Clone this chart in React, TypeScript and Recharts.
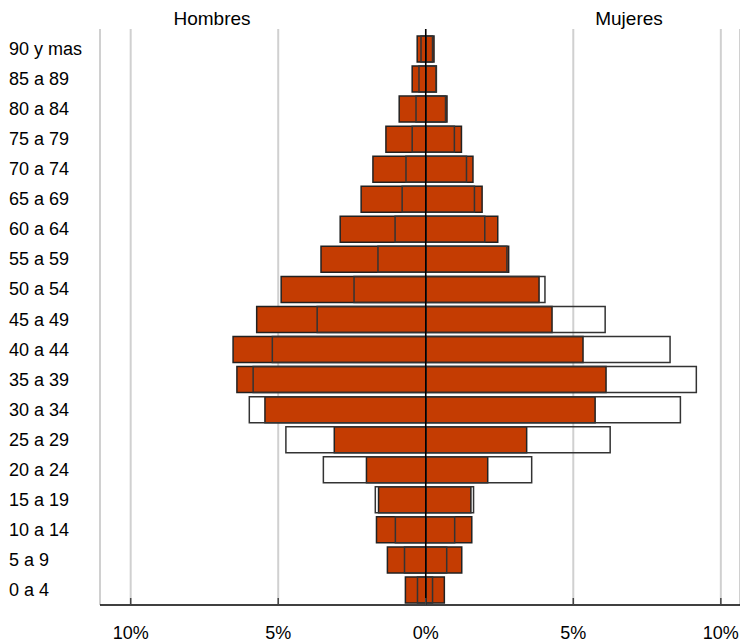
import React from "react";
import {
  BarChart,
  Bar,
  XAxis,
  YAxis,
  CartesianGrid,
  ReferenceLine,
} from "recharts";

const groups = [
  "90 y mas", "85 a 89", "80 a 84", "75 a 79", "70 a 74", "65 a 69", "60 a 64",
  "55 a 59", "50 a 54", "45 a 49", "40 a 44", "35 a 39", "30 a 34", "25 a 29",
  "20 a 24", "15 a 19", "10 a 14", "5 a 9", "0 a 4",
];

// porcentajes
const hombres = [0.29, 0.46, 0.9, 1.35, 1.79, 2.19, 2.9, 3.55, 4.9, 5.73, 6.53, 6.4, 5.45, 3.1, 2.01, 1.6, 1.67, 1.3, 0.69];
const mujeres = [0.28, 0.36, 0.72, 1.21, 1.6, 1.91, 2.44, 2.81, 3.84, 4.28, 5.33, 6.11, 5.74, 3.42, 2.1, 1.53, 1.56, 1.22, 0.63];
const hombresRef = [0.16, 0.23, 0.33, 0.46, 0.67, 0.8, 1.04, 1.62, 2.43, 3.68, 5.2, 5.85, 5.98, 4.74, 3.47, 1.71, 1.03, 0.72, 0.28];
const mujeresRef = [0.23, 0.35, 0.67, 0.97, 1.38, 1.65, 2.0, 2.75, 4.04, 6.08, 8.28, 9.17, 8.63, 6.25, 3.59, 1.62, 0.98, 0.71, 0.23];

const xTicks = [-10, -5, 0, 5, 10];

const data = groups.map((g, i) => ({
  group: g,
  hombres: -hombres[i],
  mujeres: mujeres[i],
  hombresRef: -hombresRef[i],
  mujeresRef: mujeresRef[i],
}));

const FONT = '"Liberation Sans", Arial, sans-serif';
const ORANGE = "#c43c02";

const YTick = (props: any) => {
  const { y, payload } = props;
  return (
    <text x={9} y={y} dy={6} textAnchor="start" fontSize={18} fontFamily={FONT} fill="#000">
      {payload.value}
    </text>
  );
};

const XTick = (props: any) => {
  const { x, y, payload } = props;
  return (
    <g>
      <line x1={x} x2={x} y1={y - 7} y2={y} stroke="#444" strokeWidth={1.5} />
      <text x={x} y={y + 34} textAnchor="middle" fontSize={18} fontFamily={FONT} fill="#000">
        {Math.abs(payload.value) + "%"}
      </text>
    </g>
  );
};

export default function App() {
  const title: React.CSSProperties = {
    position: "absolute",
    top: 9,
    fontSize: 19,
    lineHeight: "19px",
    fontFamily: FONT,
    transform: "translateX(-50%)",
    color: "#000",
  };
  return (
    <div style={{ position: "relative", width: 740, height: 643 }}>
      <style>{"body{margin:0}"}</style>
      <BarChart
        width={740}
        height={643}
        data={data}
        layout="vertical"
        margin={{ top: 29, right: 0, bottom: 0, left: 0 }}
        barSize={26}
        barGap={-26}
      >
        <CartesianGrid horizontal={false} stroke="#d0d0d0" strokeWidth={2} />
        <XAxis
          type="number"
          domain={[-11.04, 10.65]}
          ticks={xTicks}
          allowDataOverflow
          height={38}
          axisLine={{ stroke: "#000", strokeWidth: 1.5 }}
          tickLine={false}
          tickSize={0}
          tickMargin={0}
          tick={<XTick />}
        />
        <YAxis
          type="category"
          dataKey="group"
          width={100}
          axisLine={false}
          tickLine={false}
          padding={{ top: 5, bottom: 0 }}
          tick={<YTick />}
        />
        <Bar dataKey="hombres" fill={ORANGE} stroke="#222" strokeWidth={1.5} isAnimationActive={false} />
        <Bar dataKey="mujeres" fill={ORANGE} stroke="#222" strokeWidth={1.5} isAnimationActive={false} />
        <Bar dataKey="hombresRef" fill="none" stroke="#333" strokeWidth={1.5} isAnimationActive={false} />
        <Bar dataKey="mujeresRef" fill="none" stroke="#333" strokeWidth={1.5} isAnimationActive={false} />
        <ReferenceLine x={0} stroke="#000" strokeWidth={1.5} />
      </BarChart>
      <div style={{ ...title, left: 212 }}>Hombres</div>
      <div style={{ ...title, left: 629 }}>Mujeres</div>
    </div>
  );
}
